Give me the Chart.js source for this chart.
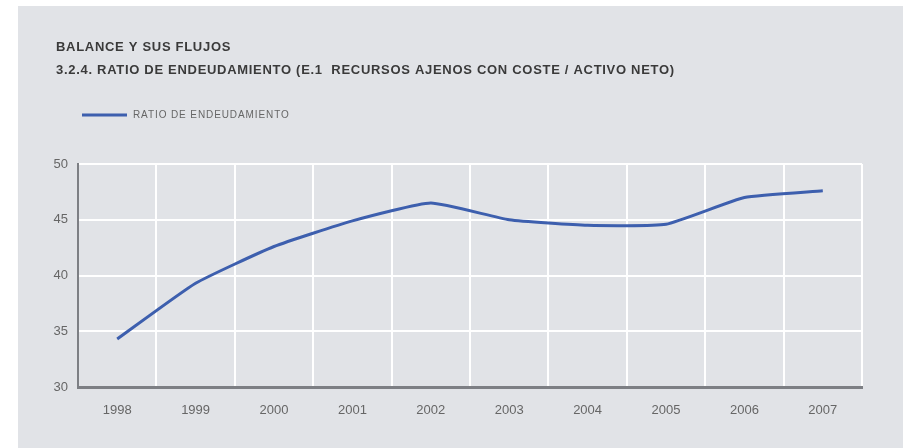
<!DOCTYPE html>
<html>
<head>
<meta charset="utf-8">
<script src="https://cdn.jsdelivr.net/npm/chart.js@4"></script>
<style>
  html, body { margin: 0; padding: 0; background: #ffffff; }
  #wrap { width: 903px; height: 448px; position: relative; }
</style>
</head>
<body>
<div id="wrap"><canvas id="ratioChart" width="903" height="448"></canvas></div>
<script>
// data
const years = ['1998', '1999', '2000', '2001', '2002', '2003', '2004', '2005', '2006', '2007'];
const ratio = [34.3, 39.3, 42.6, 44.9, 46.5, 45.0, 44.5, 44.6, 47.0, 47.6];
const yTicks = [30, 35, 40, 45, 50];
const titleLines = ['BALANCE Y SUS FLUJOS', '3.2.4. RATIO DE ENDEUDAMIENTO (E.1  RECURSOS AJENOS CON COSTE / ACTIVO NETO)'];
const seriesName = 'RATIO DE ENDEUDAMIENTO';

const lineColor = '#3d5fae';
const fontFam = '"Liberation Sans", Arial, sans-serif';

// gray panel, titles and legend drawn on the canvas
const panelPlugin = {
    id: 'panel',
    beforeDraw(chart) {
        const ctx = chart.ctx;
        ctx.save();
        ctx.fillStyle = '#ffffff';
        ctx.fillRect(0, 0, chart.width, chart.height);
        ctx.fillStyle = '#e1e3e7';
        ctx.fillRect(18, 6, chart.width - 18, chart.height - 6);

        ctx.fillStyle = '#3a3a3a';
        ctx.font = 'bold 13px ' + fontFam;
        ctx.letterSpacing = '0.7px';
        ctx.textBaseline = 'middle';
        ctx.fillText(titleLines[0], 56, 47);
        ctx.fillText(titleLines[1], 56, 70);

        // legend
        ctx.strokeStyle = lineColor;
        ctx.lineWidth = 3;
        ctx.beginPath();
        ctx.moveTo(82, 115);
        ctx.lineTo(127, 115);
        ctx.stroke();
        ctx.fillStyle = '#666666';
        ctx.font = '10px ' + fontFam;
        ctx.letterSpacing = '0.9px';
        ctx.fillText(seriesName, 133, 115.5);
        ctx.letterSpacing = '0px';
        ctx.restore();
    }
};

new Chart(document.getElementById('ratioChart'), {
    type: 'line',
    data: {
        labels: years,
        datasets: [{
            label: seriesName,
            data: ratio,
            borderColor: lineColor,
            borderWidth: 3,
            pointRadius: 0,
            tension: 0.15,
            fill: false
        }]
    },
    options: {
        responsive: false,
        animation: false,
        layout: { padding: { left: 18, top: 164, right: 41, bottom: 0 } },
        plugins: {
            legend: { display: false },
            title: { display: false },
            tooltip: { enabled: false }
        },
        scales: {
            x: {
                offset: true,
                afterFit(scale) { scale.height = 61; },
                grid: { offset: true, color: '#ffffff', lineWidth: 2, drawTicks: false },
                border: { color: '#7d7f84', width: 3 },
                ticks: { color: '#666666', padding: 16, font: { family: fontFam, size: 13 } }
            },
            y: {
                min: 30,
                max: 50,
                afterFit(scale) { scale.width = 60; },
                afterBuildTicks(scale) { scale.ticks = yTicks.map(v => ({ value: v })); },
                grid: { color: '#ffffff', lineWidth: 2, drawTicks: false },
                border: { color: '#7d7f84', width: 2 },
                ticks: { color: '#666666', padding: 10, font: { family: fontFam, size: 13 } }
            }
        }
    },
    plugins: [panelPlugin]
});
</script>
</body>
</html>
